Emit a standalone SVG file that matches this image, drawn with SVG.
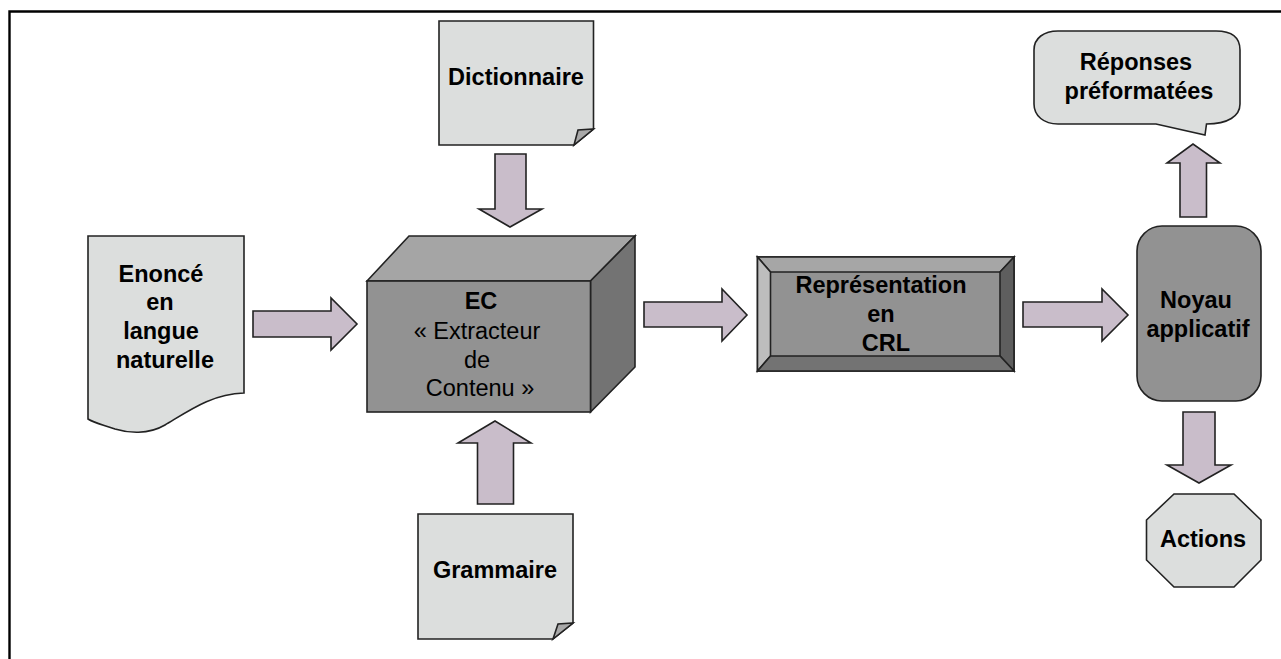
<svg xmlns="http://www.w3.org/2000/svg" width="1281" height="659" viewBox="0 0 1281 659">
<style>
text{font-family:"Liberation Sans",Arial,sans-serif;font-size:23.5px;fill:#000;text-anchor:middle;font-weight:bold}
text.r{font-weight:normal}
.s{stroke:#222;stroke-width:1.6;stroke-linejoin:miter}
.l{fill:#dcdedd}
.d{fill:#929292}
.a{fill:#c9bdca;stroke:#222;stroke-width:1.6;stroke-linejoin:miter}
</style>
<rect width="1281" height="659" fill="#fff"/>
<path d="M9.500 659V11.500H1281" fill="none" stroke="#000" stroke-width="2.400"/>
<g id="connectors">
<path class="a" d="M253 311H331V298L357 324L331 350V337H253Z"/>
<path class="a" d="M495 154H526V209H542L510 227L479 209H495Z"/>
<path class="a" d="M477.500 504V443H458L495 421L531 443H513.500V504Z"/>
<path class="a" d="M644 302H722V289L747 315L722 341V327H644Z"/>
<path class="a" d="M1023 302H1102V289L1128 315L1102 341V327H1023Z"/>
<path class="a" d="M1180 217V163H1167L1193 144L1220 163H1206.500V217Z"/>
<path class="a" d="M1183 412H1215V465H1231L1199 483L1167 465H1183Z"/>
</g>
<g id="dictionnaire">
<path class="s l" d="M439 21H593.500V129L574 145H439Z"/>
<path class="s" fill="#a9a9a9" d="M574 145L578 130L593.500 129Z"/>
<text x="516" y="85">Dictionnaire</text>
</g>
<g id="enonce">
<path class="s l" d="M88 236H244V393C212 394 190 410 165 425C148 435 128 433 115 429C104 425 94 423 88 419Z"/>
<text x="161" y="282">Enoncé</text>
<text x="160" y="310">en</text>
<text x="161" y="339">langue</text>
<text x="165" y="368">naturelle</text>
</g>
<g id="ec">
<path class="s" fill="#a5a5a5" d="M367 281L409 236H635L590.500 281Z"/>
<path class="s" fill="#737373" d="M590.500 281L635 236V367L590.500 412Z"/>
<rect class="s d" x="367" y="281" width="223.500" height="131"/>
<text x="481" y="309">EC</text>
<text class="r" x="477" y="339">« Extracteur</text>
<text class="r" x="477" y="368">de</text>
<text class="r" x="480" y="396">Contenu »</text>
</g>
<g id="crl">
<rect class="s d" x="757.500" y="257" width="256.500" height="114"/>
<path class="s" fill="#a6a6a6" d="M757.500 257H1014L1000 272H770.500Z"/>
<path class="s" fill="#bdbdbd" d="M757.500 257L770.500 272V356L757.500 371Z"/>
<path class="s" fill="#5e5e5e" d="M1014 257L1000 272V356L1014 371Z"/>
<path class="s" fill="#737373" d="M757.500 371L770.500 356H1000L1014 371Z"/>
<text x="881" y="293">Représentation</text>
<text x="881" y="322">en</text>
<text x="886" y="351">CRL</text>
</g>
<g id="noyau">
<rect class="s d" x="1137" y="226" width="124" height="175" rx="25" ry="25"/>
<text x="1196" y="308">Noyau</text>
<text x="1198" y="337">applicatif</text>
</g>
<g id="reponses">
<path class="s l" d="M1058 31H1216C1232 31 1240 38 1240 50V104C1240 116 1228 124 1206.500 124L1205 135L1156 124H1058C1044 124 1034 116 1034 104V50C1034 38 1044 31 1058 31Z"/>
<text x="1136" y="70">Réponses</text>
<text x="1139" y="99">préformatées</text>
</g>
<g id="grammaire">
<path class="s l" d="M418 514H573V623L553 639H418Z"/>
<path class="s" fill="#a9a9a9" d="M553 639L558 624L573 623Z"/>
<text x="495" y="578">Grammaire</text>
</g>
<g id="actions">
<path class="s l" d="M1174 494H1234L1261 520V560L1234 587H1174L1146.500 560V520Z"/>
<text x="1203" y="547">Actions</text>
</g>
</svg>
